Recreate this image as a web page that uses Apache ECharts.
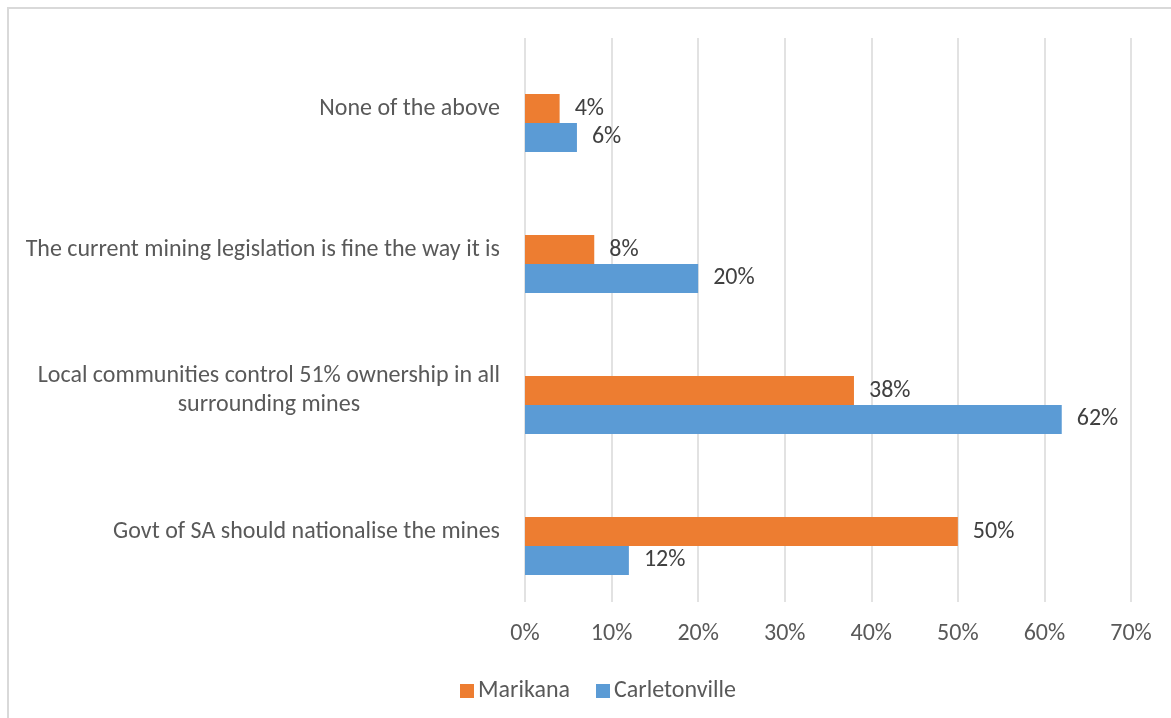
<!DOCTYPE html>
<html>
<head>
<meta charset="utf-8">
<script src="https://cdn.jsdelivr.net/npm/echarts@6/dist/echarts.min.js"></script>
<style>
  html, body { margin: 0; padding: 0; background: #fff; }
  #chart { width: 1171px; height: 718px; }
</style>
</head>
<body>
<div id="chart"></div>
<script>
// Survey responses by community (percent), listed bottom to top
const categories = [
  'Govt of SA should nationalise the mines',
  'Local communities control 51% ownership in all\nsurrounding mines',
  'The current mining legislation is fine the way it is',
  'None of the above'
];
const marikana = [50, 38, 8, 4];
const carletonville = [12, 62, 20, 6];
const xTicks = [0, 10, 20, 30, 40, 50, 60, 70];

const FONT = 'Carlito, Lato, "Liberation Sans", sans-serif';
const FS = 24;
const chart = echarts.init(document.getElementById('chart'));

const valueLabel = {
  show: true,
  position: 'right',
  distance: 15,
  formatter: p => p.value + '%',
  color: '#404040',
  fontSize: FS,
  fontFamily: FONT
};

const xRange = { min: xTicks[0], max: xTicks[xTicks.length - 1], interval: 10 };

chart.setOption({
  animation: false,
  backgroundColor: '#fff',
  graphic: [{
    type: 'rect',
    shape: { x: 8, y: 8, width: 1200, height: 800 },
    style: { fill: 'none', stroke: '#d9d9d9', lineWidth: 2 },
    silent: true
  }],
  grid: [
    // frame grid: gridlines, tick labels and category labels
    { left: 525, right: 40, top: 38, bottom: 116, containLabel: false },
    // bar grid: bars sit slightly below the category label rows
    { left: 525, right: 40, top: 52.5, bottom: 101.5, containLabel: false }
  ],
  legend: {
    data: ['Marikana', 'Carletonville'],
    top: 674,
    left: 455,
    itemWidth: 14,
    itemHeight: 14,
    itemGap: 26,
    icon: 'rect',
    textStyle: { color: '#595959', fontSize: FS, fontFamily: FONT, padding: [0, 0, 0, -1] }
  },
  xAxis: [
    {
      type: 'value',
      gridIndex: 0,
      ...xRange,
      axisLine: { show: false },
      axisTick: { show: false },
      axisLabel: {
        formatter: v => v + '%',
        color: '#595959',
        fontSize: FS,
        fontFamily: FONT,
        margin: 20
      },
      splitLine: { lineStyle: { color: '#d9d9d9', width: 1.5 } }
    },
    {
      type: 'value',
      gridIndex: 1,
      ...xRange,
      show: false,
      splitLine: { show: false }
    }
  ],
  yAxis: [
    {
      type: 'category',
      gridIndex: 0,
      data: categories,
      axisLine: { show: false },
      axisTick: { show: false },
      axisLabel: {
        color: '#595959',
        fontSize: FS,
        fontFamily: FONT,
        margin: 25,
        lineHeight: 29,
        formatter: v => v.includes('\n')
          ? v.split('\n').map(s => '{c|' + s + '}').join('\n')
          : v,
        rich: {
          c: { align: 'center', color: '#595959', fontSize: FS, fontFamily: FONT, lineHeight: 29 }
        }
      }
    },
    {
      type: 'category',
      gridIndex: 1,
      data: categories,
      show: false
    }
  ],
  series: [
    {
      name: 'Marikana',
      type: 'bar',
      xAxisIndex: 1,
      yAxisIndex: 1,
      data: marikana,
      barGap: '0%',
      barCategoryGap: '59%',
      itemStyle: { color: '#ED7D31' },
      label: valueLabel
    },
    {
      name: 'Carletonville',
      type: 'bar',
      xAxisIndex: 1,
      yAxisIndex: 1,
      data: carletonville,
      barGap: '0%',
      barCategoryGap: '59%',
      itemStyle: { color: '#5B9BD5' },
      label: valueLabel
    }
  ]
});
</script>
</body>
</html>
